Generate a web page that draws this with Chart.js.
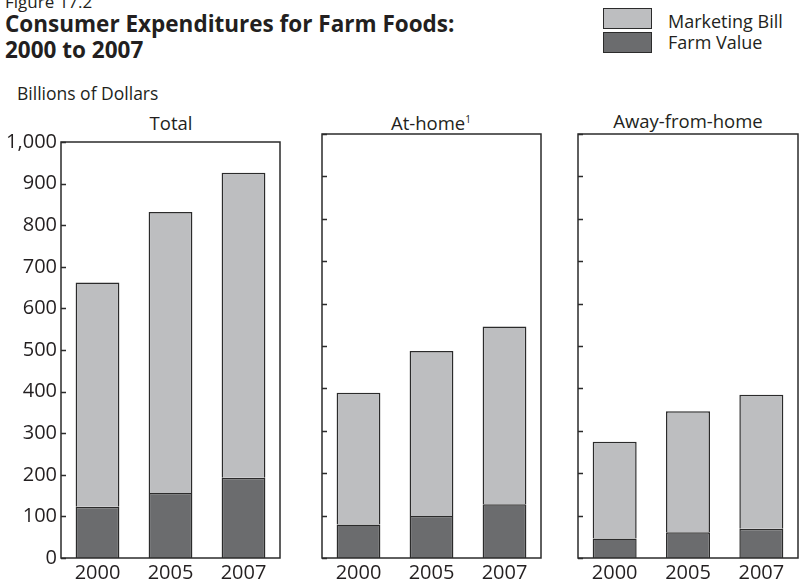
<!DOCTYPE html>
<html>
<head>
<meta charset="utf-8">
<script src="https://cdn.jsdelivr.net/npm/chart.js@4"></script>
<style>
  body { margin: 0; background: #fff; width: 799px; height: 583px; overflow: hidden; position: relative; font-family: "Open Sans", sans-serif; color: #231f20; }
  .t { position: absolute; white-space: nowrap; line-height: 1; }
  canvas { position: absolute; }
  .sw { position: absolute; left: 603px; width: 47px; height: 19px; border: 1.5px solid #2b2b2b; }
</style>
</head>
<body>
<div class="t" style="left:5px; top:-7px; font-size:17px;">Figure 17.2</div>
<div class="t" style="left:5px; top:13px; font-size:22.5px; font-weight:bold;">Consumer Expenditures for Farm Foods:</div>
<div class="t" style="left:5px; top:39px; font-size:22.5px; font-weight:bold;">2000 to 2007</div>
<div class="t" style="left:17px; top:85px; font-size:17.5px;">Billions of Dollars</div>

<div class="sw" style="top:8px; background:#bdbec0;"></div>
<div class="sw" style="top:32px; background:#6b6c6e;"></div>
<div class="t" style="left:668px; top:12px; font-size:18px;">Marketing Bill</div>
<div class="t" style="left:668px; top:33px; font-size:18px;">Farm Value</div>

<div class="t" style="left:171px; top:113.5px; font-size:18.5px; transform:translateX(-50%);">Total</div>
<div class="t" style="left:431px; top:113.5px; font-size:18.5px; transform:translateX(-50%);">At-home<sup style="font-size:10px; vertical-align:7px;">1</sup></div>
<div class="t" style="left:688px; top:111.5px; font-size:18.5px; transform:translateX(-50%);">Away-from-home</div>

<canvas id="c1" width="290" height="457" style="left:0px; top:126px;"></canvas>
<canvas id="c2" width="250" height="457" style="left:300px; top:126px;"></canvas>
<canvas id="c3" width="239" height="457" style="left:560px; top:126px;"></canvas>

<script>
// years on the x axis
const years = ['2000', '2005', '2007'];
// billions of dollars
const totalFarm = [123, 156, 193];
const totalMarketing = [539, 676, 733];
const atHomeFarm = [79, 99, 127];
const atHomeMarketing = [311, 389, 419];
const awayFarm = [46, 61, 69];
const awayMarketing = [228, 285, 316];
// y axis ticks
const yTicks = [0, 100, 200, 300, 400, 500, 600, 700, 800, 900, 1000];

const lightGray = '#bdbec0';
const darkGray = '#6b6c6e';
const edge = '#2b2b2b';

// box round the plot area plus short inward ticks on the left
const framePlugin = {
  id: 'frame',
  afterDraw(chart) {
    const a = chart.chartArea, ctx = chart.ctx, y = chart.scales.y;
    ctx.save();
    ctx.strokeStyle = edge;
    ctx.lineWidth = 1.5;
    ctx.strokeRect(a.left, a.top, a.right - a.left, a.bottom - a.top);
    ctx.beginPath();
    yTicks.forEach(v => {
      const py = Math.round(y.getPixelForValue(v)) + 0.5;
      ctx.moveTo(a.left, py);
      ctx.lineTo(a.left + 5, py);
    });
    ctx.stroke();
    ctx.restore();
  }
};

function makePanel(id, farm, marketing, axisWidth, padTop, padRight, showLabels) {
  new Chart(document.getElementById(id), {
    type: 'bar',
    data: {
      labels: years,
      datasets: [
        { label: 'Farm Value', data: farm, backgroundColor: darkGray, borderColor: edge, borderWidth: 1.5 },
        { label: 'Marketing Bill', data: marketing, backgroundColor: lightGray, borderColor: edge, borderWidth: 1.5 }
      ]
    },
    options: {
      responsive: false,
      animation: false,
      events: [],
      layout: { padding: { top: padTop, right: padRight, left: 0, bottom: 0 } },
      datasets: { bar: { barPercentage: 0.6, categoryPercentage: 1.0 } },
      plugins: { legend: { display: false }, tooltip: { enabled: false } },
      scales: {
        x: {
          stacked: true,
          grid: { display: false, drawTicks: false },
          border: { display: false },
          ticks: { color: '#231f20', padding: 3, font: { family: 'Open Sans', size: 20 } },
          afterFit(s) { s.height = 25; }
        },
        y: {
          stacked: true,
          min: 0, max: 1000,
          afterBuildTicks(s) { s.ticks = yTicks.map(v => ({ value: v })); },
          grid: { display: false, drawTicks: false },
          border: { display: false },
          ticks: {
            display: showLabels,
            color: '#231f20',
            padding: 4,
            font: { family: 'Open Sans', size: 20 },
            callback: v => v.toLocaleString('en-US')
          },
          afterFit(s) { s.width = axisWidth; }
        }
      }
    },
    plugins: [framePlugin]
  });
}

makePanel('c1', totalFarm, totalMarketing, 61, 8, 10, true);
makePanel('c2', atHomeFarm, atHomeMarketing, 22, 8, 9, false);
makePanel('c3', awayFarm, awayMarketing, 18, 8, 1, false);
</script>
</body>
</html>
